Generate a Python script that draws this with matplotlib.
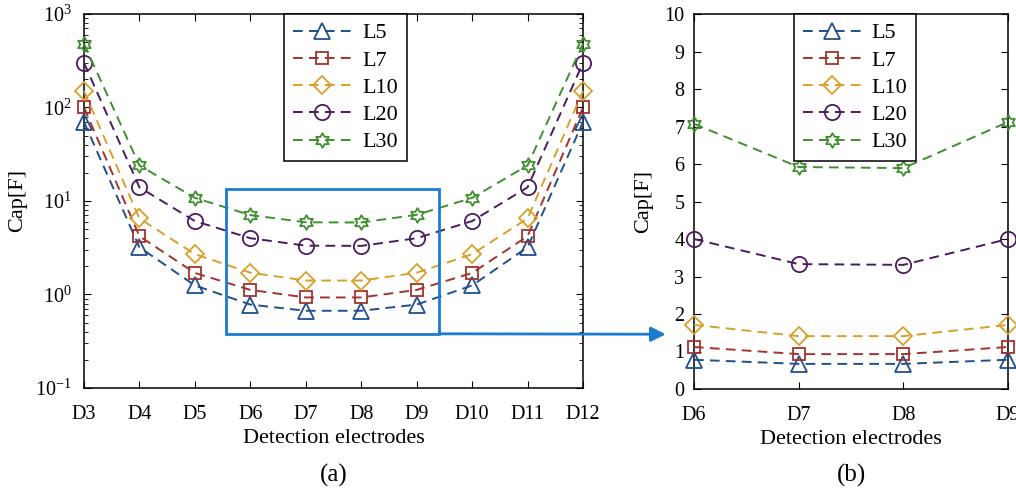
import numpy as np
import matplotlib
matplotlib.use("Agg")
import matplotlib.pyplot as plt
from matplotlib.path import Path
from matplotlib.patches import Rectangle, ConnectionPatch
from matplotlib.ticker import LogLocator, NullFormatter

# ---------------- data ----------------
electrodes = ['D3', 'D4', 'D5', 'D6', 'D7', 'D8', 'D9', 'D10', 'D11', 'D12']
series_names = ['L5', 'L7', 'L10', 'L20', 'L30']
L5 = [70, 3.2, 1.25, 0.78, 0.67, 0.67, 0.78, 1.25, 3.2, 70]
L7 = [100, 4.2, 1.7, 1.12, 0.93, 0.93, 1.12, 1.7, 4.2, 100]
L10 = [150, 6.5, 2.7, 1.71, 1.41, 1.41, 1.71, 2.7, 6.5, 150]
L20 = [300, 14, 6.1, 4.0, 3.33, 3.31, 4.0, 6.1, 14, 300]
L30 = [480, 24, 10.8, 7.07, 5.92, 5.89, 7.12, 10.8, 24, 480]

zoom_electrodes = ['D6', 'D7', 'D8', 'D9']
zoom_slice = slice(3, 7)

colors = ['#1f4f8f', '#a3332c', '#d8a02a', '#4b1b5e', '#3f8f2f']

# hexagram marker
ang_out = np.deg2rad(90 + 60 * np.arange(6))
ang_in = ang_out + np.deg2rad(30)
verts = []
for ao, ai in zip(ang_out, ang_in):
    verts.append((np.cos(ao), np.sin(ao)))
    verts.append((np.cos(ai) / np.sqrt(3), np.sin(ai) / np.sqrt(3)))
verts.append(verts[0])
codes = [Path.MOVETO] + [Path.LINETO] * 11 + [Path.CLOSEPOLY]
hexagram = Path(verts, codes)

markers = ['^', 's', 'D', 'o', hexagram]
msizes = [12, 9, 9, 11, 10.5]

plt.rcParams['font.family'] = ['Liberation Serif', 'DejaVu Serif']
plt.rcParams['mathtext.fontset'] = 'stix'

fig = plt.figure(figsize=(10.16, 4.9), dpi=100)
ax1 = fig.add_axes([84 / 1016, 1 - 388 / 490, (583 - 84) / 1016, (388 - 14) / 490])
ax2 = fig.add_axes([694 / 1016, 1 - 389 / 490, (1008 - 694) / 1016, (389 - 14) / 490])

all_series = [L5, L7, L10, L20, L30]
dash = (0, (5, 3.2))
x_all = np.arange(len(electrodes))
x_zoom = np.arange(len(zoom_electrodes))

for vals, name, c, m, ms in zip(all_series, series_names, colors, markers, msizes):
    ax1.plot(x_all, vals, linestyle=dash, color=c, lw=1.4, marker=m, ms=ms,
             mfc='none', mec=c, mew=1.3, label=name, clip_on=False, zorder=3)
    ax2.plot(x_zoom, vals[zoom_slice], linestyle=dash, color=c, lw=1.4, marker=m, ms=ms,
             mfc='none', mec=c, mew=1.3, label=name, clip_on=False, zorder=3)

TICK_FS = 14.5
LABEL_FS = 16
LEG_FS = 16

# left axes
ax1.set_yscale('log')
ax1.set_ylim(0.1, 1000)
ax1.set_xlim(0, len(electrodes) - 1)
ax1.set_xticks(x_all)
ax1.set_xticklabels(electrodes)
ax1.yaxis.set_major_locator(LogLocator(base=10, numticks=10))
ax1.yaxis.set_minor_locator(LogLocator(base=10, subs=np.arange(2, 10), numticks=20))
ax1.yaxis.set_minor_formatter(NullFormatter())
ax1.tick_params(which='both', direction='in', top=True, right=True, labelsize=TICK_FS)
ax1.tick_params(which='major', length=5)
ax1.tick_params(which='minor', length=3)
ax1.tick_params(axis='x', pad=12)
ax1.tick_params(axis='y', pad=9)
ax1.set_xlabel('Detection electrodes', fontsize=LABEL_FS, labelpad=4)
ax1.set_ylabel('Cap[F]', fontsize=LABEL_FS, labelpad=6)

# right axes
ax2.set_ylim(0, 10)
ax2.set_xlim(0, len(zoom_electrodes) - 1)
ax2.set_xticks(x_zoom)
ax2.set_xticklabels(zoom_electrodes)
ax2.set_yticks(range(0, 11))
ax2.tick_params(which='both', direction='in', top=True, right=True, labelsize=TICK_FS, length=5)
ax2.tick_params(axis='x', pad=12)
ax2.tick_params(axis='y', pad=7)
ax2.set_xlabel('Detection electrodes', fontsize=LABEL_FS, labelpad=4)
ax2.set_ylabel('Cap[F]', fontsize=LABEL_FS, labelpad=8)

for ax in (ax1, ax2):
    for s in ax.spines.values():
        s.set_linewidth(1.1)
    leg = ax.legend(loc='upper left', fontsize=LEG_FS, handlelength=2.6, labelspacing=0.3,
                    borderaxespad=0, fancybox=False, framealpha=1, edgecolor='black',
                    handletextpad=0.5, borderpad=0.4)
    leg.get_frame().set_linewidth(1.1)
    leg.set_zorder(5)
ax1.get_legend().set_bbox_to_anchor((0.401, 1.0))
ax2.get_legend().set_bbox_to_anchor((0.318, 1.0))

# zoom rectangle and arrow
blue = '#1a7bd0'
rect_x0, rect_x1 = 2.56, 6.40
rect_y0, rect_y1 = 0.38, 13.4
ax1.add_patch(Rectangle((rect_x0, rect_y0), rect_x1 - rect_x0, rect_y1 - rect_y0,
                        fill=False, edgecolor=blue, lw=2, zorder=4))
con = ConnectionPatch(xyA=(rect_x1, rect_y0), coordsA=ax1.transData,
                      xyB=(-0.27, 1.46), coordsB=ax2.transData,
                      arrowstyle='-|>', color=blue, lw=2, mutation_scale=22)
fig.add_artist(con)

fig.text((84 + 583) / 2 / 1016, 1 - 475 / 490, '(a)', ha='center', va='center', fontsize=18)
fig.text((694 + 1008) / 2 / 1016, 1 - 475 / 490, '(b)', ha='center', va='center', fontsize=18)

fig.savefig('out.png', dpi=100)
